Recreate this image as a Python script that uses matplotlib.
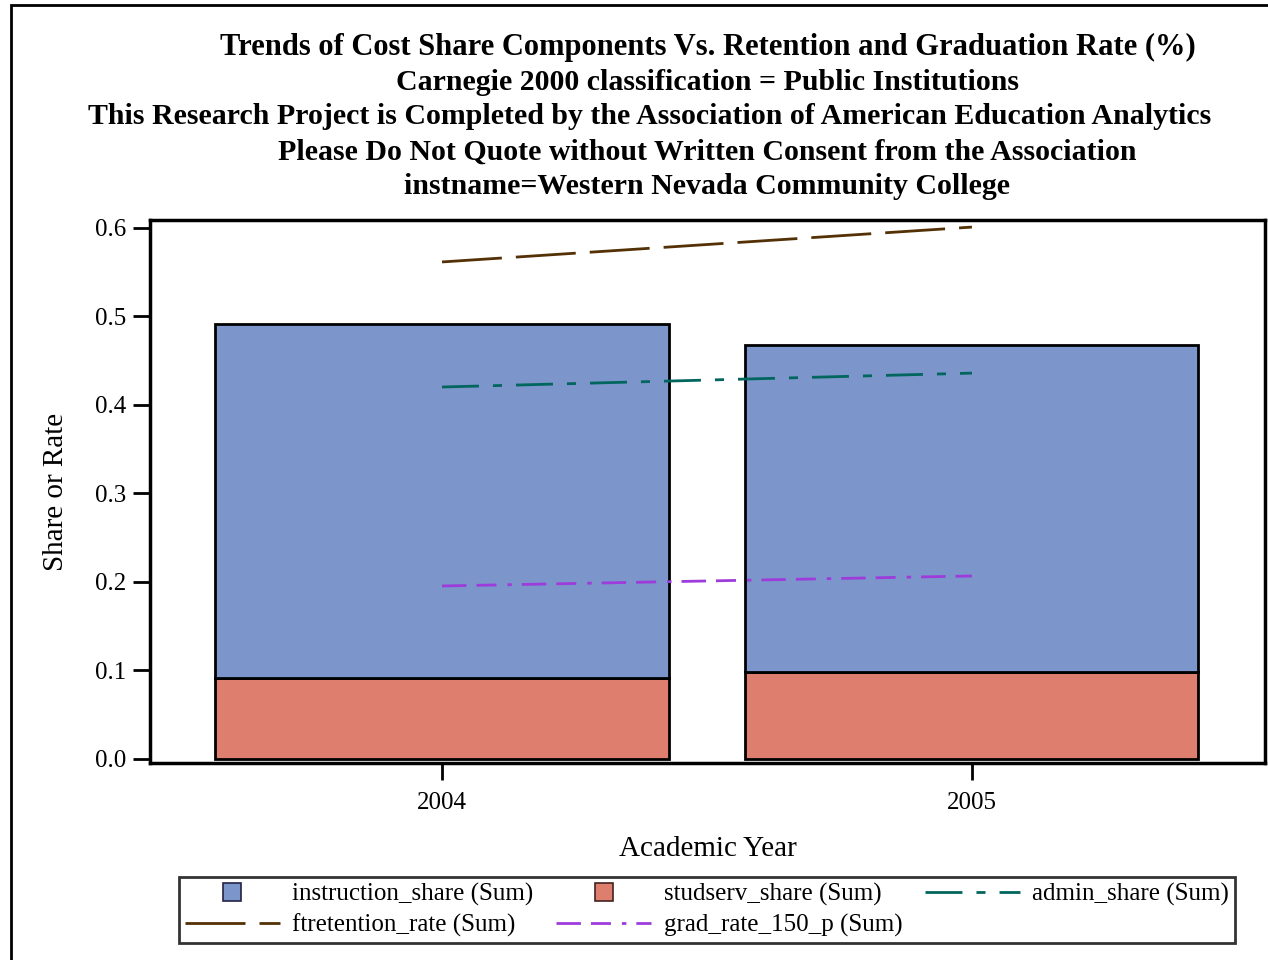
import matplotlib
matplotlib.use("Agg")
import matplotlib.pyplot as plt
from matplotlib.lines import Line2D
from matplotlib.patches import Rectangle

plt.rcParams['font.family'] = ['Liberation Serif', 'DejaVu Serif']
plt.rcParams['lines.scale_dashes'] = False

# ---- data ----
years = ["2004", "2005"]
studserv_share = [0.0915, 0.0983]
instruction_share = [0.400, 0.3695]
admin_share = [0.4203, 0.436]
ftretention_rate = [0.5616, 0.601]
grad_rate_150_p = [0.1955, 0.2068]

title_lines = [
    "Trends of Cost Share Components Vs. Retention and Graduation Rate (%)",
    "Carnegie 2000 classification = Public Institutions",
    "This Research Project is Completed by the Association of American Education Analytics",
    "Please Do Not Quote without Written Consent from the Association",
    "instname=Western Nevada Community College",
]

C_BLUE = "#7C95CA"
C_RED = "#DE7E6F"
C_ADMIN = "#01665E"
C_FTRET = "#543005"
C_GRAD = "#9D3CDB"

W, H = 1268, 960
fig = plt.figure(figsize=(W / 100, H / 100), dpi=100)

# outer border
fig.patches.append(Rectangle((11 / W, -0.1), 2.0, 1 - 5 / H + 0.1, transform=fig.transFigure,
                             fill=False, edgecolor="black", linewidth=2))

ax = fig.add_axes([150 / W, 1 - 763 / H, (1265 - 150) / W, (763 - 220) / H])

x = list(range(len(years)))
bw = 0.855
ax.bar(x, studserv_share, width=bw, color=C_RED, edgecolor="black", linewidth=2, zorder=2)
ax.bar(x, instruction_share, width=bw, bottom=studserv_share, color=C_BLUE,
       edgecolor="black", linewidth=2, zorder=2)

lw = 2.0
ax.plot(x, admin_share, color=C_ADMIN, lw=lw, dashes=(26.6, 10.1, 6.5, 10.1), zorder=3)
ax.plot(x, ftretention_rate, color=C_FTRET, lw=lw, dashes=(43.2, 10.1), zorder=3)
ax.plot(x, grad_rate_150_p, color=C_GRAD, lw=lw, dashes=(17.6, 7.2, 14.4, 7.9, 3.2, 7.2), zorder=3)

ax.set_xlim(-0.551, 1.553)
ax.set_ylim(-0.00452, 0.609)
ax.set_xticks(x)
ax.set_xticklabels(years)
ax.set_yticks([0.0, 0.1, 0.2, 0.3, 0.4, 0.5, 0.6])
ax.set_yticklabels(["0.0", "0.1", "0.2", "0.3", "0.4", "0.5", "0.6"])
ax.tick_params(axis="both", direction="out", length=12, width=2, labelsize=18, pad=5)
ax.tick_params(axis="x", pad=9)
for s in ax.spines.values():
    s.set_linewidth(2.5)

ax.set_xlabel("Academic Year", fontsize=21, labelpad=16)
ax.set_ylabel("Share or Rate", fontsize=21, labelpad=19)

# titles
centers = [708, 708, 650, 707, 707]
ys = [47, 82, 117, 152, 186]
sizes = [22, 21.5, 21.5, 21.5, 21.5]
for t, cx, cy, fs in zip(title_lines, centers, ys, sizes):
    fig.text(cx / W, 1 - cy / H, t, ha="center", va="center", fontsize=fs, fontweight="bold")

# legend
h_instr = Line2D([], [], linestyle="none", marker="s", markersize=13,
                 markerfacecolor=C_BLUE, markeredgecolor="#222244", markeredgewidth=1.2)
h_stud = Line2D([], [], linestyle="none", marker="s", markersize=13,
                markerfacecolor=C_RED, markeredgecolor="#442222", markeredgewidth=1.2)
h_admin = Line2D([], [], color=C_ADMIN, lw=lw, dashes=(26.6, 10.1, 6.5, 10.1))
h_ftret = Line2D([], [], color=C_FTRET, lw=lw, dashes=(43.2, 10.1))
h_grad = Line2D([], [], color=C_GRAD, lw=lw, dashes=(17.6, 7.2, 14.4, 7.9, 3.2, 7.2))

handles = [h_instr, h_ftret, h_stud, h_grad, h_admin]
labels = ["instruction_share (Sum)", "ftretention_rate (Sum)", "studserv_share (Sum)",
          "grad_rate_150_p (Sum)", "admin_share (Sum)"]
leg = fig.legend(handles, labels, ncol=3, loc="center",
                 bbox_to_anchor=((172 + 1242) / 2 / W, 1 - 910 / H),
                 fontsize=18, frameon=True, fancybox=False, handlelength=3.8,
                 handletextpad=0.5, columnspacing=0.9, labelspacing=0.3,
                 borderpad=0.25)
leg.get_frame().set_edgecolor("black")
leg.get_frame().set_linewidth(2)

fig.savefig("out.png", dpi=100)
